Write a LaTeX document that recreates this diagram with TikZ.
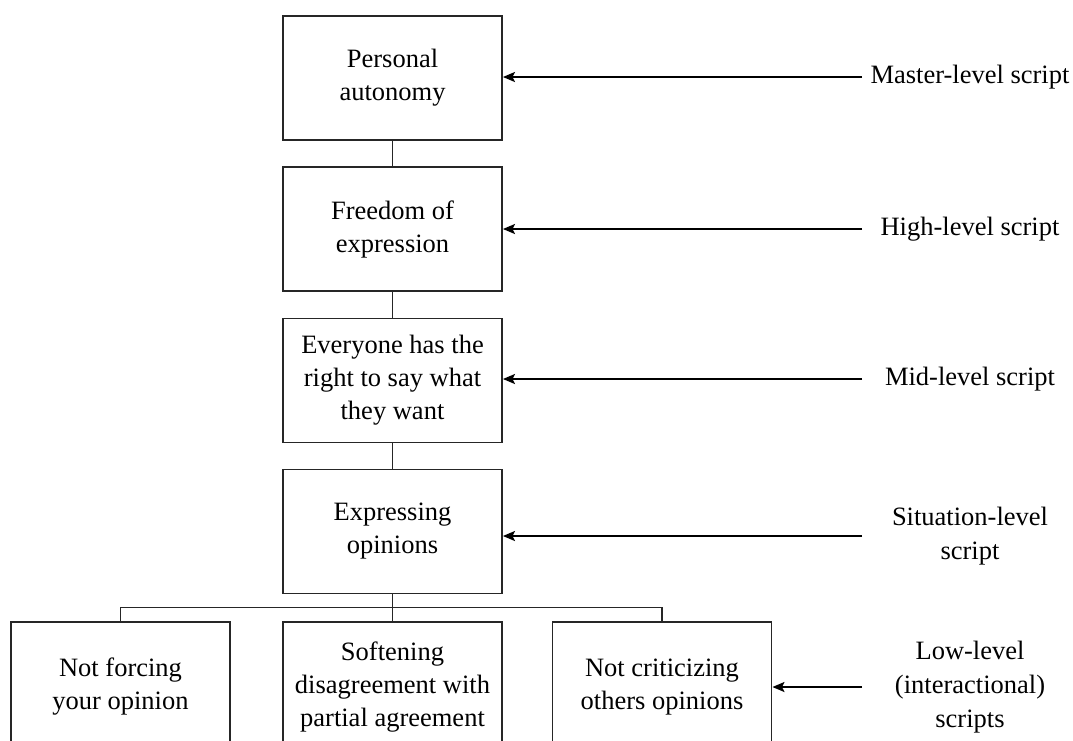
\documentclass[tikz,border=0pt]{standalone}
\usepackage{fontspec}
\setmainfont{Liberation Serif}
\usetikzlibrary{arrows.meta}
\begin{document}
\begin{tikzpicture}[x=1pt,y=-1pt,
  box/.style={draw=black!85,line width=1.9pt,minimum width=219pt,minimum height=124pt,align=center,inner sep=0pt,
    font=\fontsize{26.5}{33}\selectfont},
  lowbox/.style={box,minimum height=130pt},
  lbl/.style={align=center,inner sep=0pt,font=\fontsize{26.5}{34}\selectfont},
  link/.style={draw=black!85,line width=1.9pt},
  arr/.style={draw=black,line width=1.9pt,-{Stealth[length=12pt,width=10pt,inset=2.5pt]}}]
\clip (0,0) rectangle (1073,740);
\fill[white] (0,0) rectangle (1073,740);
% main column
\node[box] (b1) at (392.5,78) {Personal\\autonomy};
\node[box] (b2) at (392.5,229) {Freedom of\\expression};
\node[box] (b3) at (392.5,380.5) {Everyone has the\\right to say what\\they want};
\node[box] (b4) at (392.5,531.5) {Expressing\\opinions};
% bottom row
\node[lowbox] (b5) at (120.5,687) {Not forcing\\your opinion};
\node[lowbox] (b6) at (392.5,687) {Softening\\disagreement with\\partial agreement};
\node[lowbox] (b7) at (662,687) {Not criticizing\\others opinions};
% connectors
\draw[link] (b1.south) -- (b2.north);
\draw[link] (b2.south) -- (b3.north);
\draw[link] (b3.south) -- (b4.north);
\draw[link] (b4.south) -- (b6.north);
\coordinate (j) at (392.5,607.5);
\draw[link] (b5.north) |- (j) -| (b7.north);
% labels
\node[lbl] (l1) at (970,77) {Master-level script};
\node[lbl] (l2) at (970,229) {High-level script};
\node[lbl] (l3) at (970,379) {Mid-level script};
\node[lbl] (l4) at (970,536) {Situation-level\\script};
\node[lbl] (l5) at (970,687) {Low-level\\(interactional)\\scripts};
\coordinate (s1) at (862,77);
\coordinate (s2) at (862,229);
\coordinate (s3) at (862,379);
\coordinate (s4) at (862,536);
\coordinate (s5) at (862,687);
\draw[arr] (s1) -- (s1 -| b1.east);
\draw[arr] (s2) -- (s2 -| b2.east);
\draw[arr] (s3) -- (s3 -| b3.east);
\draw[arr] (s4) -- (s4 -| b4.east);
\draw[arr] (s5) -- (s5 -| b7.east);
\end{tikzpicture}
\end{document}
